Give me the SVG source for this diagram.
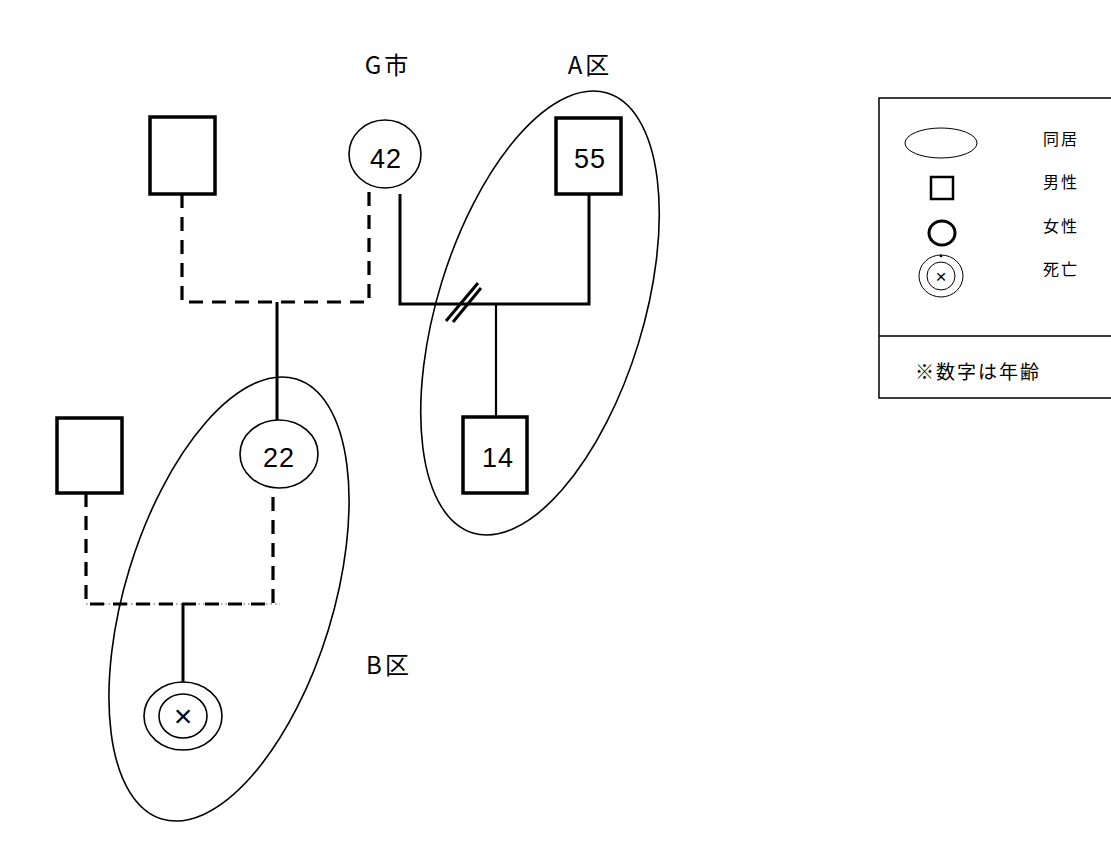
<svg xmlns="http://www.w3.org/2000/svg" width="1111" height="861" viewBox="0 0 1111 861">
<style>
.sq{fill:#fff;stroke:#000;stroke-width:3.5}
.ci{fill:#fff;stroke:#000;stroke-width:1.6}
.hh{fill:none;stroke:#000;stroke-width:1.6}
.ln{fill:none;stroke:#000;stroke-width:3}
.th{fill:none;stroke:#000;stroke-width:2.2}
.ds{fill:none;stroke:#000;stroke-width:3.2;stroke-dasharray:14 9}
.num{font-family:"Liberation Sans",Arial,sans-serif;font-size:27px;fill:#000;text-anchor:middle;letter-spacing:1px}
.lab{font-family:"Noto Sans CJK JP","Liberation Sans",sans-serif;font-size:24px;fill:#000;text-anchor:middle;letter-spacing:3px}
.leg{font-family:"Noto Sans CJK JP",sans-serif;font-size:16px;fill:#000;letter-spacing:2px}
.note{font-family:"Noto Sans CJK JP",sans-serif;font-size:19px;fill:#000;letter-spacing:2px}
</style>
<rect width="1111" height="861" fill="#fff"/>
<g id="households">
<ellipse id="hh-A" class="hh" cx="540" cy="313" rx="103" ry="230" transform="rotate(17 540 313)"/>
<ellipse id="hh-B" class="hh" cx="229" cy="599" rx="104" ry="230" transform="rotate(17 229 599)"/>
</g>
<g id="connectors">
<path class="ds" d="M182 194 V302 H369 V190"/>
<line class="ln" x1="277" y1="302" x2="277" y2="420"/>
<path class="ln" d="M400 194 V304 H589 V194"/>
<line class="th" x1="496" y1="304" x2="496" y2="417"/>
<line class="ln" x1="446" y1="321" x2="478" y2="283"/>
<line class="ln" x1="453" y1="322" x2="481" y2="288"/>
<line stroke="#555" stroke-width="1.2" stroke-dasharray="1.5 3" x1="86" y1="604" x2="280" y2="604"/>
<path class="ds" d="M86 493 V604 H273 V493"/>
<line class="ln" x1="183" y1="604" x2="183" y2="682"/>
</g>
<g id="node-father1"><rect class="sq" x="150" y="117" width="65" height="77"/></g>
<g id="node-42"><ellipse class="ci" cx="385" cy="154" rx="36" ry="34"/><text class="num" x="386" y="168">42</text></g>
<g id="node-55"><rect class="sq" x="556" y="118" width="65" height="76"/><text class="num" x="590" y="168">55</text></g>
<g id="node-14"><rect class="sq" x="463" y="417" width="64" height="76"/><text class="num" x="498" y="467">14</text></g>
<g id="node-22"><ellipse class="ci" cx="279" cy="454" rx="39" ry="34"/><text class="num" x="279" y="467">22</text></g>
<g id="node-father2"><rect class="sq" x="57" y="418" width="65" height="75"/></g>
<g id="node-dead"><ellipse class="ci" cx="183" cy="716" rx="39" ry="34"/><ellipse class="ci" cx="183" cy="716" rx="24" ry="22"/><text x="183" y="727" font-family="'Liberation Sans',sans-serif" font-size="32" text-anchor="middle">×</text></g>
<g id="labels">
<text class="lab" x="388" y="74">G市</text>
<text class="lab" x="590" y="74">A区</text>
<text class="lab" x="389" y="674">B区</text>
</g>
<g id="legend">
<path fill="none" stroke="#000" stroke-width="1.5" d="M1111 98 H879 V398 H1111 M879 336 H1111"/>
<ellipse fill="none" stroke="#000" stroke-width="1" cx="941" cy="143" rx="36" ry="15"/>
<rect fill="none" stroke="#000" stroke-width="2.5" x="931" y="177" width="22" height="22"/>
<ellipse fill="none" stroke="#000" stroke-width="3" cx="942" cy="233" rx="13" ry="12"/>
<ellipse fill="none" stroke="#000" stroke-width="1" cx="941" cy="276" rx="22" ry="21"/>
<ellipse fill="none" stroke="#000" stroke-width="1" cx="941" cy="276" rx="14" ry="14"/>
<circle cx="941" cy="256" r="1.3" fill="#000"/>
<text x="941" y="283" font-family="'Liberation Sans',sans-serif" font-size="19" text-anchor="middle">×</text>
<text class="leg" x="1043" y="145">同居</text>
<text class="leg" x="1043" y="188">男性</text>
<text class="leg" x="1043" y="232">女性</text>
<text class="leg" x="1043" y="275">死亡</text>
<text class="note" x="915" y="379">※数字は年齢</text>
</g>
</svg>
